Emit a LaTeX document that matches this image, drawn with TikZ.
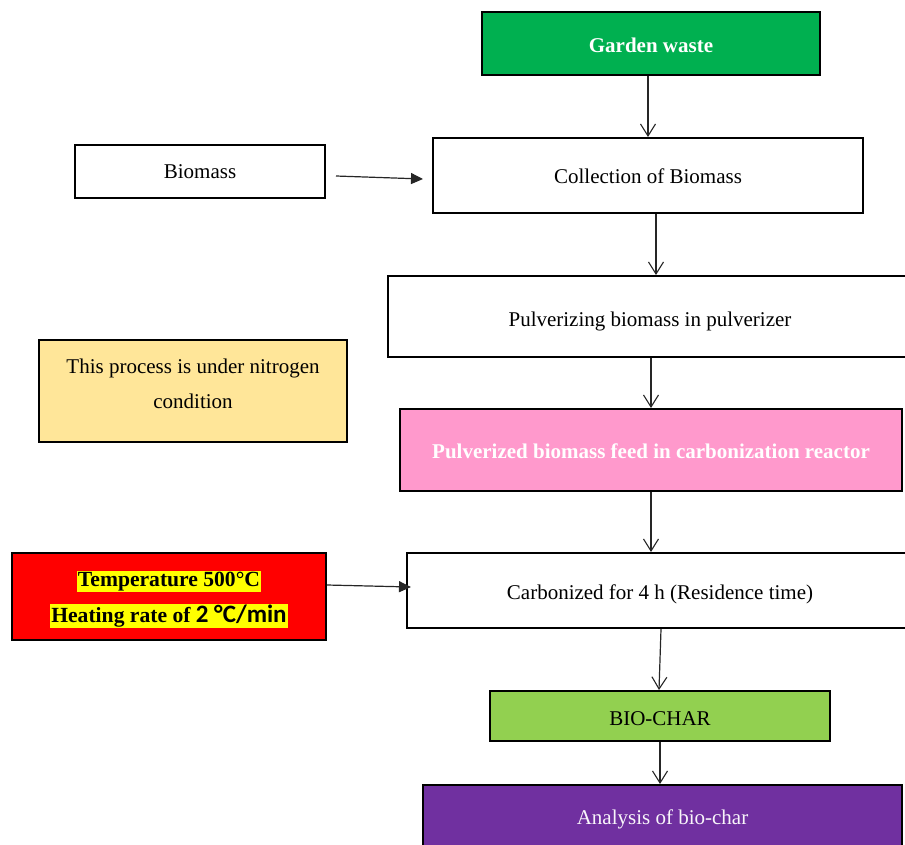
\documentclass[tikz,border=0pt]{standalone}
\usepackage{fontspec}
\setmainfont{Liberation Serif}
\newfontfamily\carlito{Carlito}
\usetikzlibrary{arrows.meta}
\definecolor{gwgreen}{HTML}{00B050}
\definecolor{notefill}{HTML}{FFE699}
\definecolor{pinkfill}{HTML}{FF99CC}
\definecolor{redfill}{HTML}{FF0000}
\definecolor{charfill}{HTML}{92D050}
\definecolor{purplefill}{HTML}{7030A0}
\definecolor{hl}{HTML}{FFFF00}
\newcommand{\dnby}[2]{\raisebox{-#1}[\height][\depth]{#2}}
\begin{document}
\begin{tikzpicture}[x=1pt,y=-1pt,
  box/.style={draw=black, line width=2pt, rectangle, inner sep=0pt, align=center,
    font=\fontsize{21}{25}\selectfont},
  plaintext/.style={inner sep=0pt, align=center},
  openarr/.style={draw=black!85, line width=1.2pt, -{Straight Barb[length=12pt,width=15pt,line width=1.1pt]}},
  filledarr/.style={draw=black!85, line width=1.2pt, -{Triangle[length=12pt,width=11pt]}}]
\useasboundingbox (0,0) rectangle (905,844);
\clip (0,0) rectangle (905,844);
\node[box, fill=gwgreen, text=white, font=\fontsize{21}{25}\selectfont\bfseries,
  minimum width=338pt, minimum height=63pt] (garden) at (651,43.5) {\dnby{2pt}{Garden waste}};
\node[box, minimum width=430pt, minimum height=75pt] (coll) at (648,175.5) {\dnby{1pt}{Collection of Biomass}};
\node[box, minimum width=250pt, minimum height=53pt] (biomass) at (200,171.5) {Biomass};
\node[box, minimum width=524pt, minimum height=81pt] (pulv) at (650,316.5) {\dnby{5pt}{Pulverizing biomass in pulverizer}};
\node[box, fill=notefill, minimum width=308pt, minimum height=102pt] (note) at (193,391) {};
\node[plaintext, font=\fontsize{21}{35}\selectfont] (notetext) at ([yshift=7pt]note.center) {This process is under nitrogen\\condition};
\node[box, fill=pinkfill, text=white, font=\fontsize{21}{25}\selectfont\bfseries,
  minimum width=502pt, minimum height=82pt] (pink) at (651,450) {\dnby{1pt}{Pulverized biomass feed in carbonization reactor}};
\node[box, minimum width=506pt, minimum height=75pt] (carb) at (660,590.5) {\dnby{3.5pt}{Carbonized for 4 h (Residence time)}};
\node[box, fill=redfill, minimum width=314pt, minimum height=87pt] (temp) at (169,596.5) {};
\node[plaintext, font=\fontsize{21.6}{36}\selectfont\bfseries] (temptext) at ([yshift=-3pt]temp.center)
  {\setlength{\fboxsep}{1pt}\colorbox{hl}{Temperature 500°C}\\
   \setlength{\fboxsep}{1pt}\colorbox{hl}{Heating rate of {\carlito\fontsize{25}{30}\selectfont 2 °C/min}}};
\node[box, fill=charfill, minimum width=340pt, minimum height=50pt] (char) at (660,716) {\dnby{3pt}{BIO-CHAR}};
\node[box, fill=purplefill, text=white!95!purplefill, minimum width=479pt, minimum height=64pt] (ana) at (662.5,817) {\dnby{2pt}{Analysis of bio-char}};
% connectors
\draw[openarr] (garden.south -| coll.north) -- (coll.north);
\draw[filledarr] ([xshift=10pt,yshift=-4.5pt]biomass.east) -- ([xshift=-9pt,yshift=-3.5pt]coll.west);
\draw[openarr] ([xshift=8pt]coll.south) -- ([xshift=6pt]pulv.north);
\draw[openarr] ([xshift=1pt]pulv.south) -- (pink.north);
\draw[openarr] (pink.south) -- ([xshift=-9pt]carb.north);
\draw[filledarr] ([yshift=11.5pt]temp.east) -- ([xshift=5pt,yshift=3.5pt]carb.west);
\draw[openarr] ([xshift=1pt]carb.south) -- ([xshift=-1pt]char.north);
\draw[openarr] (char.south) -- ([xshift=-2.5pt]ana.north);
\end{tikzpicture}
\end{document}
